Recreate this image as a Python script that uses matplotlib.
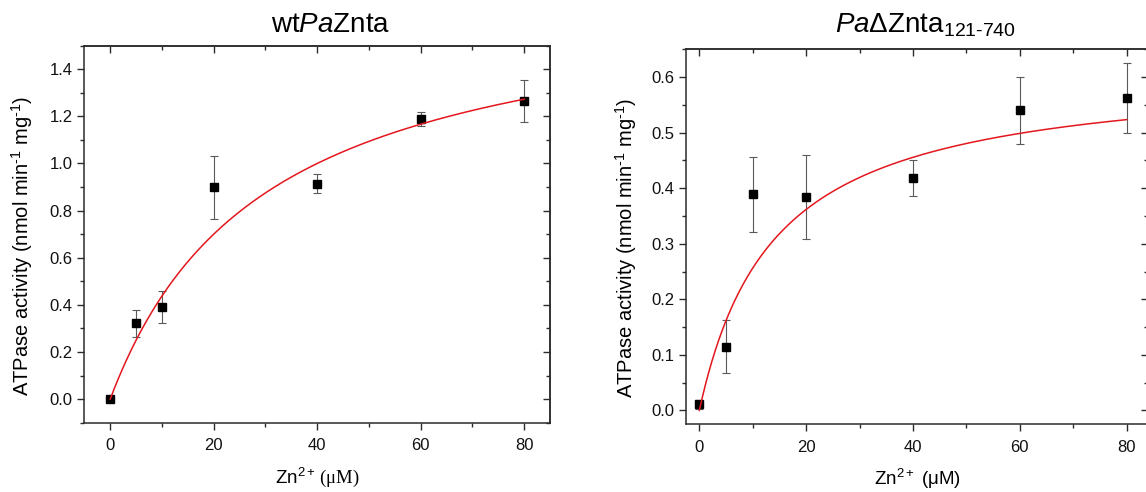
import numpy as np
import matplotlib
matplotlib.use('Agg')
import matplotlib.pyplot as plt
from matplotlib.ticker import MultipleLocator, FormatStrFormatter

plt.rcParams['font.family'] = ['Liberation Sans', 'DejaVu Sans']
plt.rcParams['mathtext.fontset'] = 'custom'
plt.rcParams['mathtext.rm'] = 'Liberation Sans'
plt.rcParams['mathtext.it'] = 'Liberation Sans:italic'
plt.rcParams['mathtext.sf'] = 'Liberation Serif'

# ---- data ----
zn = [0, 5, 10, 20, 40, 60, 80]
wt_act = [0.0, 0.322, 0.391, 0.899, 0.915, 1.189, 1.265]
wt_err = [0.010, 0.058, 0.069, 0.133, 0.042, 0.030, 0.089]
dl_act = [0.011, 0.115, 0.389, 0.384, 0.418, 0.540, 0.562]
dl_err = [0.008, 0.048, 0.068, 0.076, 0.032, 0.060, 0.063]
# Michaelis-Menten fit parameters (Vmax, Km)
wt_fit = (1.75, 30.0)
dl_fit = (0.615, 14.0)

titles = [r'wt$\mathit{Pa}$Znta', r'$\mathit{Pa}$ΔZnta$_{\text{121-740}}$']
xlabels = [r'Zn$^{2+}$$\mathsf{\,(μM)}$', r'Zn$^{2+}$ (μM)']
ylabel = r'ATPase activity (nmol min$^{\text{-1}}$ mg$^{\text{-1}}$)'

SPINE = '#2b2b2b'

fig = plt.figure(figsize=(11.46, 4.92), dpi=100)
ax1 = fig.add_axes([0.0736, 0.1409, 0.4063, 0.7663])
ax2 = fig.add_axes([0.5986, 0.1376, 0.4031, 0.7622])


def style(ax, xlim, ylim, ymaj, ymin, yfmt):
    ax.set_xlim(*xlim)
    ax.set_ylim(*ylim)
    for s in ax.spines.values():
        s.set_color(SPINE)
        s.set_linewidth(1.1)
    ax.xaxis.set_major_locator(MultipleLocator(20))
    ax.xaxis.set_minor_locator(MultipleLocator(10))
    ax.yaxis.set_major_locator(MultipleLocator(ymaj))
    ax.yaxis.set_minor_locator(MultipleLocator(ymin))
    ax.yaxis.set_major_formatter(FormatStrFormatter(yfmt))
    ax.tick_params(which='both', direction='out', colors=SPINE, width=1.0,
                   labelsize=12, labelcolor='#111111')
    ax.tick_params(which='major', length=5)
    ax.tick_params(which='minor', length=3)
    ax.tick_params(axis='x', which='major', pad=6)
    top = ax.secondary_xaxis('top')
    top.xaxis.set_major_locator(MultipleLocator(20))
    top.xaxis.set_minor_locator(MultipleLocator(10))
    top.tick_params(which='both', direction='in', labeltop=False, colors=SPINE, width=1.0)
    top.tick_params(which='major', length=5)
    top.tick_params(which='minor', length=3)
    top.spines['top'].set_color(SPINE)
    top.spines['top'].set_linewidth(1.1)
    right = ax.secondary_yaxis('right')
    right.yaxis.set_major_locator(MultipleLocator(ymaj))
    right.yaxis.set_minor_locator(MultipleLocator(ymin))
    right.tick_params(which='both', direction='in', labelright=False, colors=SPINE, width=1.0)
    right.tick_params(which='major', length=5)
    right.tick_params(which='minor', length=3)
    right.spines['right'].set_color(SPINE)
    right.spines['right'].set_linewidth(1.1)


def draw(ax, act, err, fit):
    ax.errorbar(zn, act, yerr=err, fmt='none', ecolor='#5a5a5a',
                elinewidth=0.8, capsize=3, capthick=0.8, zorder=2)
    ax.plot(zn, act, 's', color='black', ms=6, zorder=3)
    xs = np.linspace(0, 80, 400)
    vmax, km = fit
    ax.plot(xs, vmax * xs / (km + xs), color='#e3171d', lw=1.1, zorder=4)


draw(ax1, wt_act, wt_err, wt_fit)
draw(ax2, dl_act, dl_err, dl_fit)
style(ax1, (-5, 85), (-0.1, 1.5), 0.2, 0.1, '%.1f')
style(ax2, (-2.5, 84), (-0.025, 0.65), 0.1, 0.05, '%.1f')

ax1.set_title(titles[0], fontsize=20, x=0.528, pad=10)
ax2.set_title(titles[1], fontsize=20, x=0.519, pad=12)
for ax, xl in zip((ax1, ax2), xlabels):
    ax.set_xlabel(xl, fontsize=13.5, labelpad=9)
    ax.set_ylabel(ylabel, fontsize=14.5)
ax1.yaxis.set_label_coords(-0.106, 0.47)
ax2.yaxis.set_label_coords(-0.102, 0.47)

fig.savefig('out.png', dpi=100)
